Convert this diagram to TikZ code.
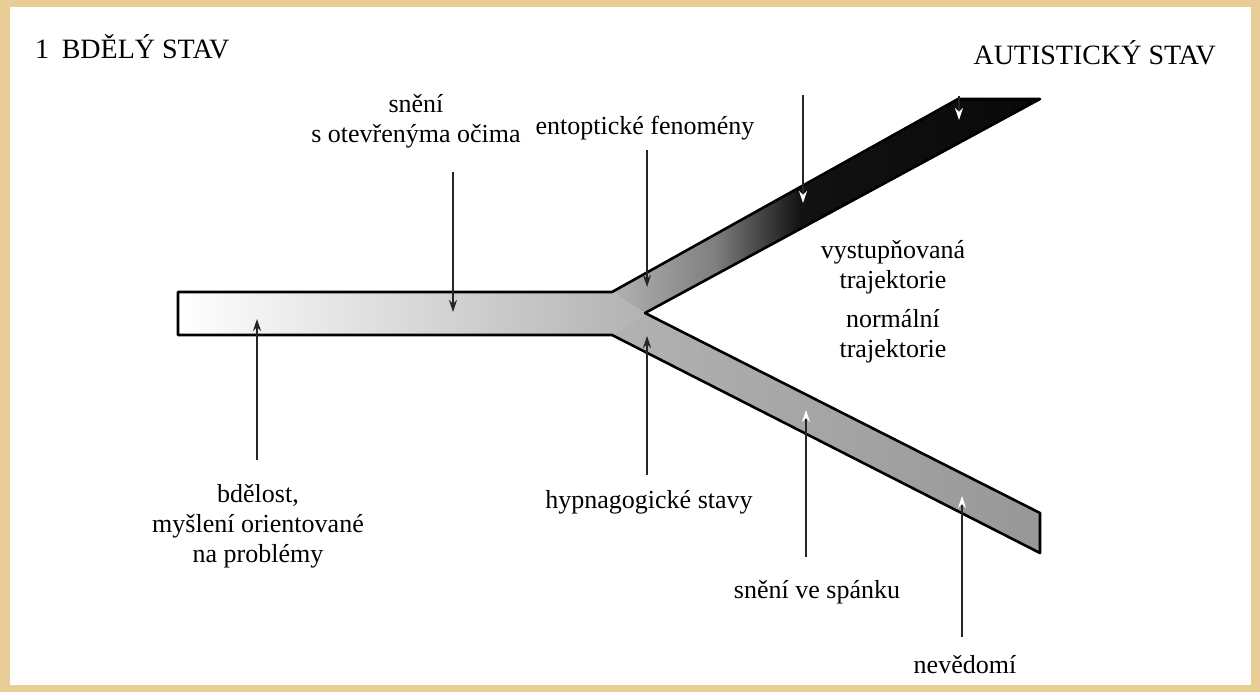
\documentclass[tikz,border=0pt]{standalone}
\usepackage{fontspec}
\setmainfont{Liberation Serif}
\usetikzlibrary{positioning, arrows.meta, calc}
\definecolor{paper}{RGB}{232,205,150}
\definecolor{band}{RGB}{178,178,178}
\pgfdeclarehorizontalshading{upshade}{100bp}{color(0bp)=(band); color(25bp)=(band); color(37bp)=(black!50); color(47bp)=(black!93); color(100bp)=(black)}
\tikzset{
  lbl/.style={align=center, font=\fontsize{26}{30}\selectfont, inner sep=0pt},
  head/.style={font=\fontsize{28}{32}\selectfont, inner sep=0pt},
  pin/.style={line width=1.3pt, black!85, -{Stealth[length=12pt,width=8pt]}},
  wpin/.style={line width=1.3pt, black!85, -{Stealth[length=12pt,width=8pt,color=white]}},
  rim/.style={line width=2.6pt, line join=round},
}

\begin{document}
\begin{tikzpicture}[x=1pt, y=-1pt]
    \fill[paper] (0,0) rectangle (1260,692);
    \fill[white] (10,7) rectangle (1251,685);
    \useasboundingbox (0,0) rectangle (1260,692);

    % the band: bar, then the two branches
    \coordinate (barNW) at (178,292);
    \coordinate (barSW) at (178,335);
    \coordinate (forkN) at (612,292);
    \coordinate (forkS) at (612,335);
    \coordinate (forkIn) at (645,313);
    \coordinate (upW) at (958,99);
    \coordinate (upE) at (1040,99);
    \coordinate (lowN) at (1040,513);
    \coordinate (lowS) at (1040,553);
    \shade[left color=white, right color=band] (barNW) -- (forkN) -- (forkIn) -- (forkS) -- (barSW) -- cycle;
    \shade[shading=upshade] (forkN) -- (upW) -- (upE) -- (forkIn) -- cycle;
    \shade[left color=band, right color=band!85!black] (forkIn) -- (lowN) -- (lowS) -- (forkS) -- cycle;
    \draw[rim] (barSW) -- (barNW) -- (forkN) -- (upW) -- (upE) -- (forkIn) -- (lowN) -- (lowS) -- (forkS) -- cycle;

    % headings and labels
    \node[head, anchor=base west] (awake) at (35,59) {1\hspace{0.45em}BDĚLÝ STAV};
    \node[head, anchor=base east] (autist) at (1216,65) {AUTISTICKÝ STAV};
    \node[lbl] (daydream) at (416,121) {snění\\s otevřenýma očima};
    \node[lbl] (entopt) at (645,128) {entoptické fenomény};
    \node[lbl] (hypna) at (649,502) {hypnagogické stavy};
    \node[lbl] (alert) at (258,526) {bdělost,\\myšlení orientované\\na problémy};
    \node[lbl] (raised) at (893,267) {vystupňovaná\\trajektorie};
    \node[lbl] (normal) at (893,336) {normální\\trajektorie};
    \node[lbl] (sleep) at (817,592) {snění ve spánku};
    \node[lbl] (uncons) at (965,665) {nevědomí};

    % pointers
    \coordinate (alertTop) at (257,460);  \coordinate (alertTip) at (257,319);
    \coordinate (dayTop) at (453,172);    \coordinate (dayTip) at (453,312);
    \coordinate (entTop) at (647,150);    \coordinate (entTip) at (647,287);
    \coordinate (hypBot) at (647,475);    \coordinate (hypTip) at (647,336);
    \coordinate (autTop) at (803,95);     \coordinate (autTip) at (803,203);
    \coordinate (endTop) at (959,96);     \coordinate (endTip) at (959,120);
    \coordinate (sleepBot) at (806,557);  \coordinate (sleepTip) at (806,410);
    \coordinate (uncBot) at (962,637);    \coordinate (uncTip) at (962,496);
    \draw[pin] (alertTop) -- (alertTip);
    \draw[pin] (dayTop) -- (dayTip);
    \draw[pin] (entTop) -- (entTip);
    \draw[pin] (hypBot) -- (hypTip);
    \draw[wpin] (autTop) -- (autTip);
    \draw[wpin] (endTop) -- (endTip);
    \draw[wpin] (sleepBot) -- (sleepTip);
    \draw[wpin] (uncBot) -- (uncTip);
\end{tikzpicture}
\end{document}
